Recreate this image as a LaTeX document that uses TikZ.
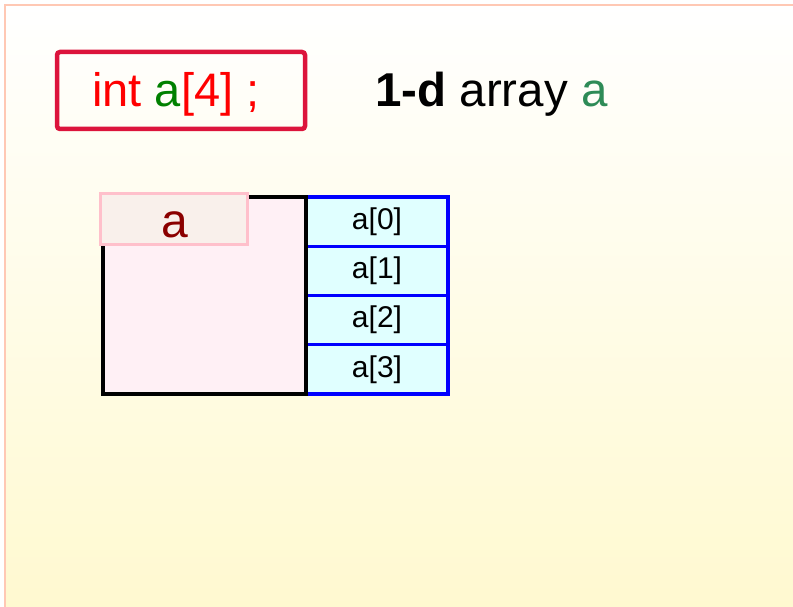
\documentclass[tikz,border=0pt]{standalone}
\usepackage{fontspec}
\setmainfont{Liberation Sans}
\definecolor{declred}{RGB}{220,20,60}
\definecolor{seagr}{RGB}{46,139,87}
\definecolor{darkgr}{RGB}{0,128,0}
\definecolor{framec}{RGB}{255,200,180}
\definecolor{bgbot}{RGB}{255,249,208}
\definecolor{varfill}{RGB}{255,240,245}
\definecolor{lblfill}{RGB}{249,240,235}
\definecolor{lbldraw}{RGB}{255,192,203}
\definecolor{cellfill}{RGB}{224,255,255}
\definecolor{darkred}{RGB}{139,0,0}
\tikzset{
  bigfont/.style={font=\fontsize{47.5}{56}\selectfont},
  cellbox/.style={draw=blue, fill=cellfill, line width=3.2pt, minimum width=142pt, minimum height=49.25pt, inner sep=0pt, font=\fontsize{30}{36}\selectfont},
}
\begin{document}
\begin{tikzpicture}[x=1pt,y=-1pt]
\useasboundingbox (0,0) rectangle (793,607);
\fill[white] (0,0) rectangle (793,607);
\shade[top color=white, bottom color=bgbot] (5,5) rectangle (793,607);
\draw[framec, line width=1.5pt] (5,607) -- (5,5) -- (793,5);
% declaration
\node[draw=declred, line width=4.5pt, rounded corners=3pt, minimum width=248pt, minimum height=77pt, inner sep=0pt] (declbox) at (181,90.5) {};
\node[font=\fontsize{47}{56}\selectfont, anchor=base west, inner sep=0pt, text=red] (decltext) at (92,107) {int \textcolor{darkgr}{a}[4] ;};
\node[bigfont, anchor=base west, inner sep=0pt] (title) at (375,107) {\textbf{1-d} array \textcolor{seagr}{a}};
% cells
\node[cellbox] (cell0) at (377,221.6) {a[0]};
\node[cellbox] (cell1) at (377,270.9) {a[1]};
\node[cellbox] (cell2) at (377,320.1) {a[2]};
\node[cellbox] (cell3) at (377,369.4) {a[3]};
% variable box
\node[draw=black, fill=varfill, line width=3.6pt, minimum width=203pt, minimum height=197pt, inner sep=0pt] (var) at (204.5,295.5) {};
\node[draw=lbldraw, fill=lblfill, line width=3pt, minimum width=147pt, minimum height=50pt, inner sep=0pt] (lbl) at (173.5,219) {};
\node[font=\fontsize{48}{56}\selectfont, text=darkred, anchor=base, inner sep=0pt] (lbltext) at (175,237) {a};
\end{tikzpicture}
\end{document}
